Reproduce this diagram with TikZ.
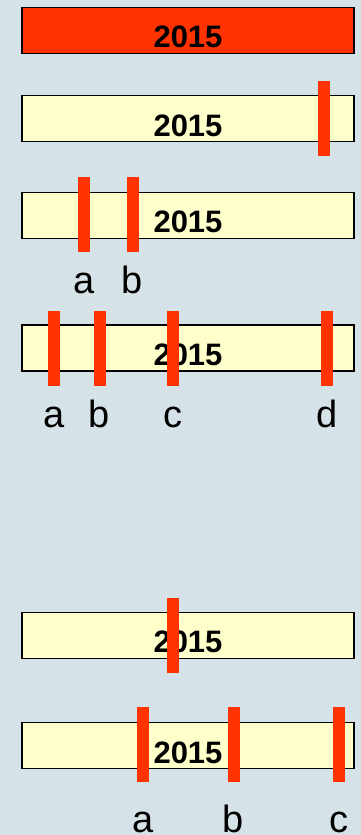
\documentclass[tikz,border=0pt]{standalone}
\usepackage{fontspec}
\setmainfont{Liberation Sans}
\usetikzlibrary{positioning}
\definecolor{cutred}{HTML}{FF3300}
\definecolor{barfill}{HTML}{FFFFCC}
\definecolor{slide}{HTML}{D5E3E8}
\tikzset{
    yearbar/.style={draw=black, line width=1.2pt, minimum width=332pt, minimum height=46pt, inner sep=0pt},
    yeartext/.style={font=\fontsize{31}{31}\selectfont\bfseries, inner sep=0pt},
    cutmark/.style={fill=cutred, minimum width=12pt, minimum height=75pt, inner sep=0pt},
    cutlabel/.style={font=\fontsize{38}{38}\selectfont, inner sep=0pt}
}

\begin{document}
\begin{tikzpicture}[x=1pt, y=-1pt]
    % slide background
    \useasboundingbox (0,0) rectangle (361,835);
    \fill[slide] (0,0) rectangle (361,835);

    % bars with the year
    \foreach \row/\y/\co in {
        1/30.3/cutred,
        2/118.7/barfill,
        3/215.3/barfill,
        4/348/barfill,
        5/635.3/barfill,
        6/745.8/barfill}
    {
        \node[yearbar, fill=\co] (bar\row) at (188,\y) {};
        \node[yeartext, yshift=-7pt] (year\row) at (bar\row.center) {2015};
    }

    % cuts
    \foreach \name/\x/\y in {
        m2/324.2/118.3,
        a3/84.3/214.8,
        b3/132.5/214.8,
        a4/54.3/348,
        b4/99.5/348,
        c4/172.8/348,
        d4/326.7/348,
        m5/172.8/635,
        a6/142.7/744.7,
        b6/233.5/744.7,
        c6/339.3/744.7}
    {
        \node[cutmark] (\name) at (\x,\y) {};
    }

    % letters under the cuts
    \foreach \name/\txt/\dist in {
        a3/a/41pt, b3/b/41pt,
        a4/a/42pt, b4/b/42pt, c4/c/42pt, d4/d/42pt,
        a6/a/50pt, b6/b/50pt, c6/c/50pt}
    {
        \node[cutlabel, below=\dist of \name.south, anchor=base] (l\name) {\txt};
    }
\end{tikzpicture}
\end{document}
